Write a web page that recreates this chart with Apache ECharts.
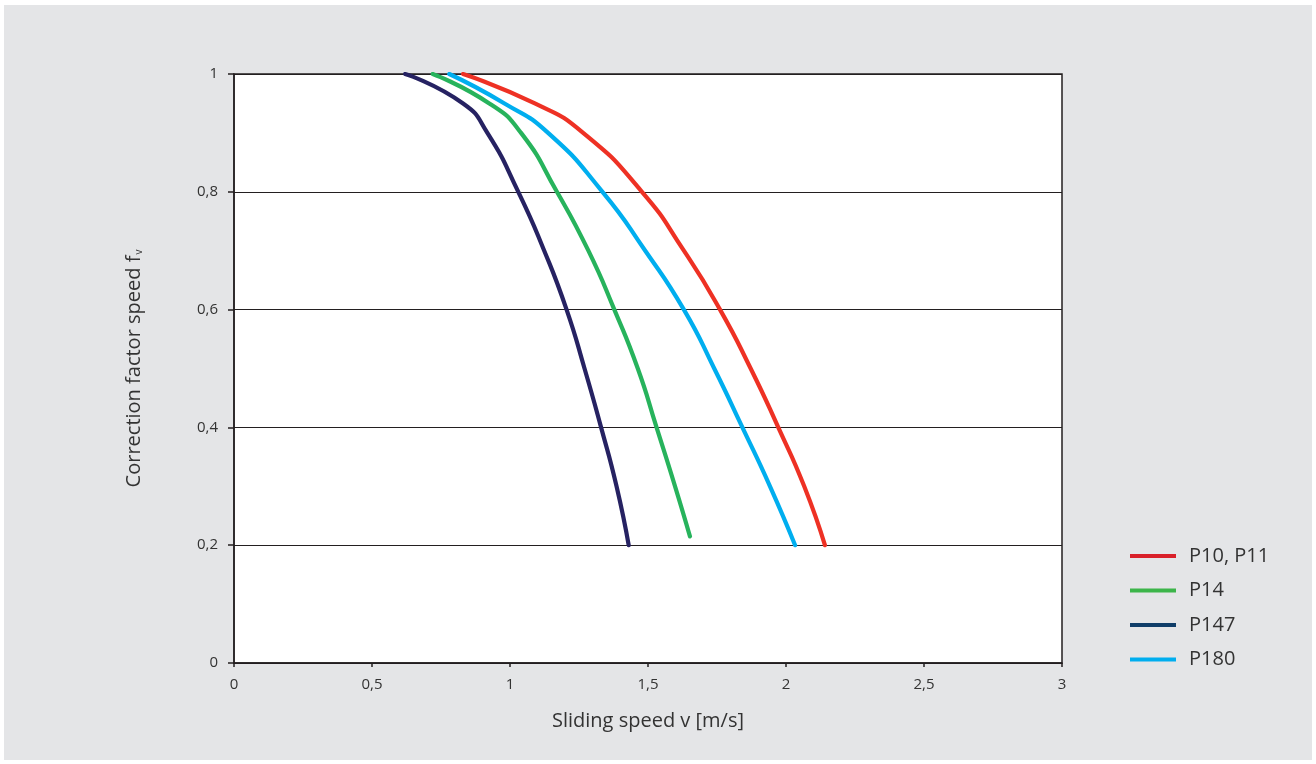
<!DOCTYPE html>
<html>
<head>
<meta charset="utf-8">
<script src="https://cdn.jsdelivr.net/npm/echarts@6/dist/echarts.min.js"></script>
<style>
html,body{margin:0;padding:0;background:#ffffff;}
#wrap{position:absolute;left:4px;top:5px;width:1308px;height:755px;background:#e4e5e7;}
#chart{position:absolute;left:-4px;top:-5px;width:1316px;height:764px;}
</style>
</head>
<body>
<div id="wrap"><div id="chart"></div></div>
<script>
// Sliding speed v [m/s], correction factor f_v
const seriesNames = ['P10, P11', 'P14', 'P147', 'P180'];
const p10p11 = [[0.83,1.0],[1.09,0.95],[1.265,0.9],[1.478,0.8],[1.63,0.7],[1.761,0.6],[1.872,0.5],[1.972,0.4],[2.066,0.3],[2.141,0.2]];
const p14 = [[0.72,1.0],[0.925,0.95],[1.04,0.9],[1.17,0.8],[1.284,0.7],[1.378,0.6],[1.463,0.5],[1.531,0.4],[1.598,0.3],[1.652,0.215]];
const p147 = [[0.62,1.0],[0.83,0.95],[0.918,0.9],[1.03,0.8],[1.124,0.7],[1.205,0.6],[1.27,0.5],[1.33,0.4],[1.386,0.3],[1.43,0.2]];
const p180 = [[0.78,1.0],[0.98,0.95],[1.138,0.9],[1.335,0.8],[1.49,0.7],[1.63,0.6],[1.74,0.5],[1.842,0.4],[1.942,0.3],[2.033,0.2]];
const xTicks = ['0','0,5','1','1,5','2','2,5','3'];
const yTicks = ['0','0,2','0,4','0,6','0,8','1'];

const lineColors = ['#ee3124','#27b35c','#262262','#00aeef'];
const legendColors = ['#d9202a','#3cb54a','#0f3d68','#00aeef'];
const datasets = [p10p11, p14, p147, p180];
const font = "'Open Sans', 'Noto Sans', sans-serif";

const chart = echarts.init(document.getElementById('chart'), null, {renderer:'canvas'});
chart.setOption({
  backgroundColor: 'transparent',
  animation: false,
  textStyle: {fontFamily: font, color: '#333'},
  grid: {left: 234, right: 254, top: 74, bottom: 101, show: true, backgroundColor: '#ffffff', borderColor: '#231f20', borderWidth: 1.5},
  legend: {
    orient: 'vertical', left: 1125, top: 540, itemWidth: 46, itemHeight: 4, itemGap: 12.5,
    icon: 'rect',
    textStyle: {fontSize: 20, color: '#333', fontFamily: font, lineHeight: 22, padding: [0,0,0,8]},
    data: seriesNames.map((n,i) => ({name: n, itemStyle: {color: legendColors[i]}}))
  },
  xAxis: {
    type: 'value', min: 0, max: 3, interval: 0.5,
    name: 'Sliding speed v [m/s]', nameLocation: 'middle', nameGap: 48,
    nameTextStyle: {fontSize: 20, color: '#333'},
    axisLine: {show: true, onZero: false, lineStyle: {color: '#231f20', width: 1.5}},
    axisTick: {show: true, length: 4, lineStyle: {color: '#231f20', width: 1.5}},
    axisLabel: {margin: 14, fontSize: 15, color: '#333', formatter: (v) => xTicks[Math.round(v/0.5)]},
    splitLine: {show: false}
  },
  yAxis: {
    type: 'value', min: 0, max: 1, interval: 0.2,
    name: 'Correction factor speed f{sub|v}', nameLocation: 'middle', nameGap: 90, nameRotate: 90,
    nameTextStyle: {fontSize: 20, color: '#333', rich: {sub: {fontSize: 10, color: '#333', verticalAlign: 'bottom', padding: [8,0,0,1]}}},
    axisLine: {show: true, lineStyle: {color: '#231f20', width: 1.5}},
    axisTick: {show: true, length: 6, lineStyle: {color: '#231f20', width: 1.5}},
    axisLabel: {margin: 16, fontSize: 15, color: '#333', formatter: (v) => yTicks[Math.round(v/0.2)]},
    splitLine: {show: true, lineStyle: {color: '#231f20', width: 1.2}}
  },
  series: datasets.map((d,i) => ({
    name: seriesNames[i], type: 'line', data: d, smooth: 0.55,
    showSymbol: false, symbol: 'none', color: lineColors[i],
    lineStyle: {width: 4.2, color: lineColors[i], cap: 'round'},
    z: 3 + i
  }))
});
</script>
</body>
</html>
